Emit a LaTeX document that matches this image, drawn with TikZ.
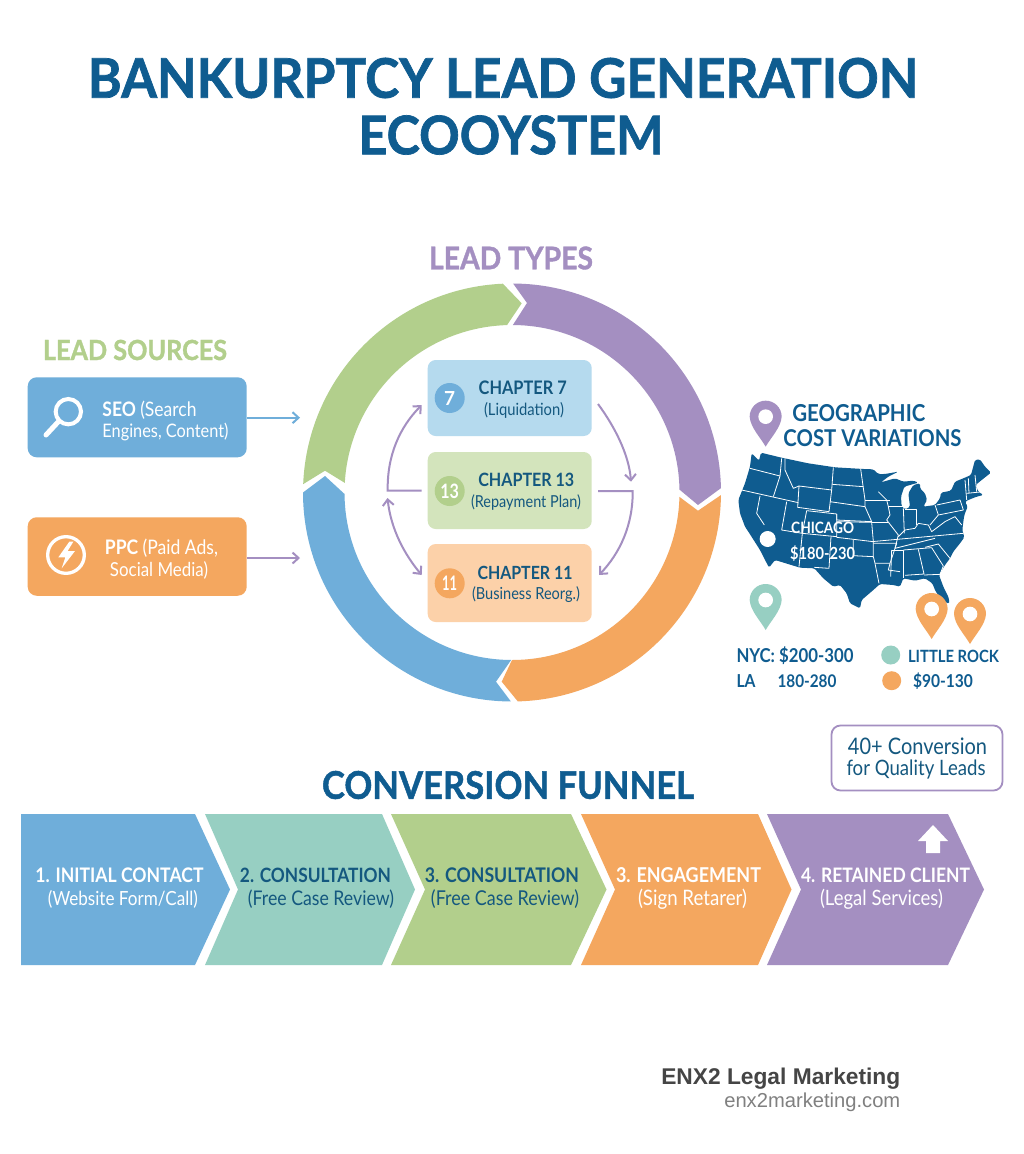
\documentclass[tikz,border=0pt]{standalone}
\usepackage{graphicx}
\usepackage{fontspec}
\setmainfont{Lato}
\newfontfamily\heavyfont{Lato}[BoldFeatures={FakeBold=1.3}]
\newfontfamily\brandfont{Liberation Sans}
\usetikzlibrary{arrows.meta}
\definecolor{ttl}{HTML}{0F5C90}
\definecolor{ink}{HTML}{14587F}
\definecolor{cblue}{HTML}{6FAEDA}
\definecolor{cteal}{HTML}{97CFC2}
\definecolor{cgreen}{HTML}{B2CF8C}
\definecolor{corange}{HTML}{F4A75F}
\definecolor{cpurple}{HTML}{A48FC1}
\definecolor{lblue}{HTML}{B5DAEE}
\definecolor{lgreen}{HTML}{D3E4BC}
\definecolor{lorange}{HTML}{FCD1A9}
\newcommand{\tw}[2]{\scalebox{1}[1.14]{\resizebox{#1pt}{!}{#2}}}
\newcommand{\hw}[3]{\scalebox{1}[#2]{\resizebox{#1pt}{!}{\heavyfont\bfseries #3}}}
\newcommand{\mypin}[3]{\begin{scope}[shift={(#1,#2)}]
 \fill[#3] (-48,0) arc[start angle=180,end angle=360,radius=48]
   .. controls (46,32) and (16,62) .. (0,90) .. controls (-16,62) and (-46,32) .. cycle;
 \fill[white] (0,0) circle[radius=22];
 \end{scope}}
\tikzset{
 lbl/.style={inner sep=0pt,outer sep=0pt,anchor=center,text=ink},
 wlbl/.style={lbl,text=white},
 cardbox/.style={rounded corners=8pt,inner sep=0pt,minimum width=164pt},
 srcbox/.style={rounded corners=9pt,inner sep=0pt,minimum width=219pt},
 num/.style={circle,inner sep=0pt,minimum size=30pt},
 flow/.style={line width=2pt,cpurple,-{Straight Barb[length=6pt,width=11pt,line width=2pt]}},
 flowboth/.style={line width=2pt,cpurple,{Straight Barb[length=6pt,width=11pt,line width=2pt]}-{Straight Barb[length=6pt,width=11pt,line width=2pt]}},
 stateln/.style={white,line width=0.8pt,line join=round},
}
\begin{document}
\begin{tikzpicture}[x=1pt,y=-1pt]
\useasboundingbox (0,0) rectangle (1024,1154);
\fill[white] (0,0) rectangle (1024,1154);
% title
\node[lbl,text=ttl] (t1) at (503,78) {\hw{830}{1.06}{BANKURPTCY LEAD GENERATION}};
\node[lbl,text=ttl] (t2) at (511,135) {\hw{305}{1.06}{ECOOYSTEM}};
\node[lbl,text=cpurple] (ltypes) at (511,258) {\hw{164}{1.1}{LEAD TYPES}};
\node[lbl,text=cgreen] (lsources) at (135,350) {\hw{184}{1.1}{LEAD SOURCES}};
% ring
\begin{scope}[shift={(512,492.5)}]
\fill[cpurple] (-89.7:209) arc[start angle=-89.7,end angle=-1.2,radius=209] -- (186,12.5) -- (-1:167.5) arc[start angle=-1,end angle=-89.7,radius=167.5] -- (15,-189.5) -- cycle;
\fill[corange] (0.7:209) arc[start angle=0.7,end angle=88.4,radius=209] -- (-10.3,189.2) -- (90:167.5) arc[start angle=90,end angle=1.5,radius=167.5] -- (186,18.2) -- cycle;
\fill[cblue] (90.3:209) arc[start angle=90.3,end angle=180,radius=209] -- (-187,-16.5) -- (179.5:167.5) arc[start angle=179.5,end angle=90.3,radius=167.5] -- (-16,189.2) -- cycle;
\fill[cgreen] (182.3:209) arc[start angle=182.3,end angle=267.5,radius=209] -- (9.7,-189.2) -- (268.3:167.5) arc[start angle=268.3,end angle=183.3,radius=167.5] -- (-187,-21.8) -- cycle;
\end{scope}
% chapter cards
\node[cardbox,fill=lblue,minimum height=76pt] (ch7) at (509.7,398) {};
\node[cardbox,fill=lgreen,minimum height=77pt] (ch13) at (509.7,490.5) {};
\node[cardbox,fill=lorange,minimum height=78pt] (ch11) at (509.7,583) {};
\node[num,fill=cblue] (n7) at (449.7,398) {\color{white}\resizebox{11pt}{14pt}{\bfseries 7}};
\node[num,fill=cgreen] (n13) at (449.7,491) {\color{white}\resizebox{18.7pt}{14.5pt}{\bfseries 13}};
\node[num,fill=corange] (n11) at (449.7,583.3) {\color{white}\resizebox{15pt}{14.5pt}{\bfseries 11}};
\node[lbl] (c7a) at (522.7,387.7) {\tw{88}{\bfseries CHAPTER 7}};
\node[lbl] (c7b) at (524,410) {\tw{80}{(Liquidation)}};
\node[lbl] (c13a) at (526.3,480) {\tw{96}{\bfseries CHAPTER 13}};
\node[lbl] (c13b) at (526,502.7) {\tw{110}{(Repayment Plan)}};
\node[lbl] (c11a) at (525,572.7) {\tw{95}{\bfseries CHAPTER 11}};
\node[lbl] (c11b) at (526,595) {\tw{108}{(Business Reorg.)}};
% chapter arrows
\coordinate (al0) at (421.7,490.7); \coordinate (al1) at (387.7,490.7); \coordinate (al2) at (421.7,405);
\coordinate (bl1) at (387.5,498); \coordinate (bl2) at (421.7,575);
\coordinate (ar1) at (598,404); \coordinate (ar2) at (631,481.7);
\coordinate (br0) at (598,491); \coordinate (br1) at (632.7,491); \coordinate (br2) at (599,575);
\draw[flow] (al0) -- (al1) .. controls (387,455) and (400,427) .. (al2);
\draw[flowboth] (bl1) .. controls (391,530) and (405,555) .. (bl2);
\draw[flow] (ar1) .. controls (615,427) and (629,455) .. (ar2);
\draw[flow] (br0) -- (br1) .. controls (633,525) and (620,553) .. (br2);
% lead sources
\node[srcbox,fill=cblue,minimum height=80pt] (seo) at (137.2,417.3) {};
\node[srcbox,fill=corange,minimum height=78.5pt] (ppc) at (137.2,556.5) {};
\coordinate (seoend) at (300,417.7); \coordinate (ppcend) at (300,558);
\draw[flow,cblue,-{Straight Barb[length=6pt,width=11pt,line width=2pt]}] (seo.east |- seoend) -- (seoend);
\draw[flow] (ppc.east |- ppcend) -- (ppcend);
\begin{scope}[shift={(10,330)},scale=1/3]
 \draw[white,line width=4pt] (175,245) circle[radius=38];
 \draw[white,line width=5pt,line cap=round] (146,274) -- (108,315);
 \draw[white,line width=3.3pt] (168,675) circle[radius=55];
 \fill[white] (178,635) -- (145,682) -- (166,682) -- (155,715) -- (195,663) -- (173,663) -- (190,635) -- cycle;
\end{scope}
\node[wlbl] (seo1) at (149.5,410) {\tw{94}{\bfseries SEO \normalfont(Search}};
\node[wlbl] (seo2) at (165.5,432) {\tw{126}{Engines, Content)}};
\node[wlbl] (ppc1) at (161.5,548) {\tw{113}{\bfseries PPC \normalfont(Paid Ads,}};
\node[wlbl] (ppc2) at (159,570) {\tw{98}{Social Media)}};
% map
\begin{scope}[shift={(725,390)},scale=1/3]
\fill[ttl,line join=round,rounded corners=1.5pt] (80,190) -- (102,212) -- (108,188) -- (165,202) -- (250,220) -- (330,232) -- (415,237) -- (445,238) -- (460,252) -- (480,252) -- (520,245) -- (490,260) -- (468,277) -- (510,265) -- (535,275) -- (565,272) -- (580,278) -- (555,285) -- (538,290) -- (528,320) -- (530,350) -- (542,358) -- (555,350) -- (550,310) -- (565,285) -- (585,280) -- (585,295) -- (600,310) -- (606,330) -- (595,350) -- (630,345) -- (645,325) -- (648,308) -- (678,302) -- (690,275) -- (715,265) -- (738,255) -- (750,210) -- (765,208) -- (780,230) -- (798,248) -- (770,270) -- (752,285) -- (760,305) -- (775,315) -- (755,320) -- (730,330) -- (720,335) -- (728,350) -- (718,375) -- (715,395) -- (712,420) -- (718,442) -- (705,460) -- (685,485) -- (675,505) -- (660,525) -- (642,555) -- (655,590) -- (672,625) -- (672,642) -- (655,632) -- (632,605) -- (622,580) -- (600,565) -- (570,572) -- (535,565) -- (525,590) -- (505,585) -- (465,582) -- (445,600) -- (410,630) -- (405,655) -- (375,640) -- (365,610) -- (345,585) -- (325,590) -- (295,565) -- (268,535) -- (225,533) -- (150,510) -- (132,533) -- (105,480) -- (70,425) -- (60,410) -- (45,370) -- (40,330) -- (60,280) -- (75,230) -- cycle;
\draw[stateln] (75,235) -- (165,258);
\draw[stateln] (170,205) -- (165,258) -- (145,320);
\draw[stateln] (50,300) -- (220,338);
\draw[stateln] (180,205) -- (180,240) -- (205,295) -- (222,288);
\draw[stateln] (222,288) -- (320,300) -- (312,365) -- (218,352) -- cycle;
\draw[stateln] (325,232) -- (320,300);
\draw[stateln] (407,237) -- (420,330) -- (420,350);
\draw[stateln] (322,283) -- (415,290);
\draw[stateln] (315,335) -- (420,350) -- (440,395) -- (335,390) -- (335,372);
\draw[stateln] (245,362) -- (335,372) -- (335,440) -- (232,430) -- cycle;
\draw[stateln] (185,335) -- (170,420) -- (232,430);
\draw[stateln] (105,318) -- (95,370) -- (118,405);
\draw[stateln] (232,430) -- (222,530);
\draw[stateln] (318,440) -- (312,535) -- (268,532);
\draw[stateln] (335,395) -- (440,397) -- (445,455) -- (335,442);
\draw[stateln] (385,450) -- (385,497) -- (445,500) -- (445,455);
\draw[stateln] (420,330) -- (495,330);
\draw[stateln] (440,397) -- (490,397);
\draw[stateln] (445,460) -- (515,460) -- (495,520) -- (450,520) -- (445,500);
\draw[stateln] (450,520) -- (462,580);
\draw[stateln] (495,520) -- (490,540) -- (525,545);
\draw[stateln] (500,480) -- (535,480) -- (535,565);
\draw[stateln] (500,480) -- (497,560);
\draw[stateln] (580,478) -- (597,552) -- (540,556);
\draw[stateln] (535,480) -- (620,473) -- (655,528) -- (645,553) -- (597,555);
\draw[stateln] (440,455) -- (715,430);
\draw[stateln] (510,475) -- (630,445);
\draw[stateln] (600,472) -- (640,462) -- (675,505);
\draw[stateln] (490,348) -- (535,348);
\draw[stateln] (535,355) -- (538,430);
\draw[stateln] (540,358) -- (575,358) -- (575,405);
\draw[stateln] (635,345) -- (705,330) -- (715,360) -- (640,375);
\draw[stateln] (630,345) -- (640,375) -- (615,405);
\draw[stateln] (520,440) -- (540,420) -- (570,415) -- (580,400) -- (610,405) -- (620,425) -- (660,395) -- (690,380) -- (710,405);
\draw[stateln] (460,305) -- (485,330) -- (490,350) -- (495,375) -- (485,390) -- (520,435) -- (510,475);
\draw[stateln] (720,270) -- (725,330);
\draw[stateln] (730,265) -- (732,310);
\draw[stateln] (750,255) -- (755,305);
\draw[stateln] (725,310) -- (775,305);
\fill[white] (128,447) circle[radius=24];
\mypin{122}{80}{cpurple}
\mypin{122}{630}{cteal}
\mypin{620}{657}{corange}
\mypin{735}{672}{corange}
\end{scope}
\node[lbl,text=ttl] (g1) at (858.8,413.3) {\tw{133}{\bfseries GEOGRAPHIC}};
\node[lbl,text=ttl] (g2) at (872.5,437.7) {\tw{178}{\bfseries COST VARIATIONS}};
\node[wlbl] (m1) at (822.7,528.3) {\tw{63}{\bfseries CHICAGO}};
\node[wlbl] (m2) at (822.7,553.3) {\tw{65}{\bfseries \$180-230}};
\node[lbl,text=ttl] (p1) at (795,655.7) {\tw{117}{\bfseries NYC: \$200-300}};
\node[lbl,text=ttl] (p2) at (746,680.7) {\tw{19}{\bfseries LA}};
\node[lbl,text=ttl] (p3) at (807,680.7) {\tw{59}{\bfseries 180-280}};
\node[lbl,text=ttl] (p4) at (953.5,656) {\tw{91}{\bfseries LITTLE ROCK}};
\node[lbl,text=ttl] (p5) at (943,681) {\tw{60}{\bfseries \$90-130}};
\node[circle,fill=cteal,minimum size=19pt,inner sep=0pt] (d1) at (890.7,655) {};
\node[circle,fill=corange,minimum size=19pt,inner sep=0pt] (d2) at (891.7,680.7) {};
% callout
\node[draw=cpurple,fill=white,line width=1.8pt,rounded corners=9pt,minimum width=171pt,minimum height=65pt,inner sep=0pt] (call) at (917,758) {};
\node[lbl] (call1) at (917.5,746.5) {\tw{139}{40+ Conversion}};
\node[lbl] (call2) at (916,769.5) {\tw{139}{for Quality Leads}};
% funnel
\node[lbl,text=ttl] (ft) at (508,785) {\hw{372}{1.1}{CONVERSION FUNNEL}};
\fill[cblue] (21,814) -- (195,814) -- (230,889.5) -- (195,965) -- (21,965) -- cycle;
\fill[cteal] (205,814) -- (382,814) -- (415,889.5) -- (382,965) -- (205,965) -- (238,889.5) -- cycle;
\fill[cgreen] (391,814) -- (571,814) -- (606.5,889.5) -- (571,965) -- (391,965) -- (425,889.5) -- cycle;
\fill[corange] (581,814) -- (758,814) -- (791.5,889.5) -- (758,965) -- (581,965) -- (615,889.5) -- cycle;
\fill[cpurple] (767,814) -- (948,814) -- (984,889.5) -- (948,965) -- (767,965) -- (801,889.5) -- cycle;
\fill[white] (933,825) -- (948,841) -- (940,841) -- (940,853) -- (926,853) -- (926,841) -- (918,841) -- cycle;
\node[wlbl] (f1a) at (119.5,875) {\tw{168}{\bfseries 1. INITIAL CONTACT}};
\node[wlbl] (f1b) at (123,899) {\tw{150}{(Website Form/Call)}};
\node[lbl] (f2a) at (315.5,875) {\tw{151}{\bfseries 2. CONSULTATION}};
\node[lbl] (f2b) at (321,899) {\tw{146}{(Free Case Review)}};
\node[lbl] (f3a) at (502,875) {\tw{154}{\bfseries 3. CONSULTATION}};
\node[lbl] (f3b) at (505,899) {\tw{148}{(Free Case Review)}};
\node[wlbl] (f4a) at (688.5,875) {\tw{145}{\bfseries 3. ENGAGEMENT}};
\node[wlbl] (f4b) at (692.5,899) {\tw{109}{(Sign Retarer)}};
\node[wlbl] (f5a) at (885.5,875) {\tw{169}{\bfseries 4. RETAINED CLIENT}};
\node[wlbl] (f5b) at (881.5,899) {\tw{123}{(Legal Services)}};
% brand
\node[inner sep=0pt,anchor=east,text=black!73] (b1) at (900.5,1079) {\brandfont\resizebox{239pt}{!}{\bfseries ENX2 Legal Marketing}};
\node[inner sep=0pt,anchor=east,text=black!50] (b2) at (900.5,1102) {\brandfont\resizebox{176pt}{!}{enx2marketing.com}};
\end{tikzpicture}
\end{document}
